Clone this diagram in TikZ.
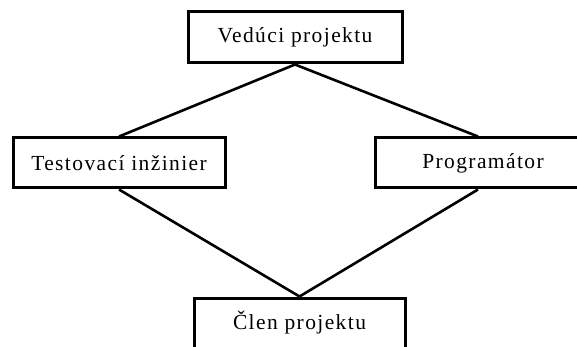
\documentclass[tikz,border=0pt]{standalone}
\usepackage{fontspec}
\setmainfont{Liberation Serif}[LetterSpace=6.5]
\begin{document}
\begin{tikzpicture}[x=1pt,y=-1pt,
  role/.style={draw=black, line width=3pt, fill=white, inner sep=0pt,
    font=\fontsize{21.5}{24}\selectfont},
  link/.style={draw=black, line width=2.6pt}]
  \useasboundingbox (0,0) rectangle (577,347);
  \clip (0,0) rectangle (577,347);
  % organisation roles
  \node[role, minimum width=214pt, minimum height=51pt] (lead) at (295,37.5) {Vedúci projektu};
  \node[role, minimum width=212pt, minimum height=50pt] (test) at (119,163) {Testovací inžinier};
  \node[role, minimum width=216pt, minimum height=50pt] (prog) at (483,163) {Programátor};
  \node[role, minimum width=211pt, minimum height=50pt] (member) at (299.5,323) {Člen projektu};
  % reporting lines
  \path[link] (lead.south) -- (test.north);
  \path[link] (lead.south) -- ([xshift=-5pt]prog.north);
  \path[link] (test.south) -- (member.north);
  \path[link] ([xshift=-5pt]prog.south) -- (member.north);
\end{tikzpicture}
\end{document}
